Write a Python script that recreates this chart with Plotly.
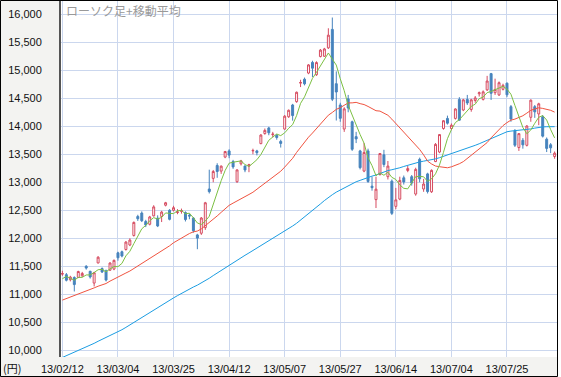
import plotly.graph_objects as go

# ---- data (Nikkei 225 daily, 2013/02/12 - 2013/08/12) ----
opens = [11360,11350,11260,11300,11300,11330,11500,11410,11200,11560,
11460,11420,11430,11450,11740,11760,11800,11880,12050,12390,
12450,12300,12250,12400,12360,12390,12590,12500,12500,12460,
12480,12460,12410,12360,12060,12090,12190,12880,13070,13300,
13200,13450,13560,13370,13010,13330,13290,13290,13560,13560,
13690,13870,13970,13850,13840,13730,13950,14170,14380,14440,
14770,14840,14950,15140,14920,15245,15250,15400,15730,14760,
14380,13950,14490,14080,13815,13560,13200,13560,12930,12690,
13140,13490,13100,13020,12570,12700,13080,13210,13100,12790,
13410,12880,13150,12830,13370,13540,13960,14140,13960,14140,
14480,14290,14480,14300,14460,14580,14480,14650,14940,14600,
14560,14660,14770,14350,13920,13620,13750,13660,14160,14350,
14220,14170,13770,13670,13460]

highs = [11420,11380,11330,11320,11420,11400,11520,11420,11400,11680,
11480,11440,11570,11620,11760,11780,11950,12000,12300,12420,
12480,12330,12400,12590,12410,12490,12650,12520,12580,12520,
12530,12480,12440,12380,12080,12380,12650,13225,13220,13340,
13300,13560,13590,13400,13230,13400,13300,13330,13600,13580,
13860,13960,13990,13900,13860,13760,14200,14300,14400,14620,
14830,14870,15110,15170,15160,15380,15400,15750,15942,14980,
14420,14340,14560,14100,13900,13580,13700,13600,13100,13100,
13520,13580,13380,13050,12900,13100,13120,13290,13130,13260,
13440,13060,13170,13230,13700,13860,14110,14190,14050,14320,
14520,14490,14560,14490,14540,14620,14640,14900,14953,14850,
14800,14760,14780,14380,13950,13880,13790,14020,14480,14380,
14420,14200,13800,13700,13550]

lows = [11330,11230,11230,11050,11290,11310,11440,11280,11140,11550,
11380,11230,11420,11430,11600,11660,11780,11860,12030,12310,
12290,12200,12230,12390,12200,12290,12570,12320,12480,12430,
12440,12300,12340,12100,11805,12060,12150,12800,13000,13080,
13150,13430,13430,13240,12990,13300,13180,13180,13500,13480,
13680,13850,13840,13800,13760,13620,13940,14150,14100,14420,
14700,14730,14930,14880,14900,15230,15240,15380,14450,14103,
14080,13900,14250,13560,13700,13230,13180,12990,12850,12540,
13120,13270,13050,12415,12520,12680,12960,13180,12940,12760,
13000,12830,12800,12810,13360,13520,13940,14030,13930,14120,
14100,14270,14380,14260,14420,14530,14460,14630,14470,14560,
14540,14640,14520,14080,13630,13560,13600,13640,14080,14150,
14020,13800,13540,13520,13420]

closes = [11369,11251,11307,11173,11407,11372,11468,11309,11385,11662,
11398,11254,11559,11606,11652,11683,11932,11968,12283,12349,
12314,12239,12381,12560,12220,12468,12635,12338,12546,12471,
12493,12335,12397,12135,12003,12362,12634,12833,13192,13192,
13288,13549,13485,13275,13221,13382,13220,13316,13568,13529,
13843,13926,13884,13860,13799,13694,14180,14285,14191,14607,
14782,14758,15096,15037,15138,15360,15381,15627,14483,14612,
14142,14311,14326,13589,13774,13261,13533,13014,12904,12877,
13514,13317,13289,12445,12686,13033,13007,13245,12986,13230,
13062,12969,12834,13213,13677,13852,14099,14055,14018,14309,
14109,14472,14416,14472,14506,14599,14615,14808,14589,14658,
14778,14731,14562,14129,13661,13869,13668,14005,14466,14258,
14401,13824,13605,13615,13519]

ma5 = [11278,11319,11287,11251,11301,11302,11345,11346,11388,11439,
11444,11402,11452,11496,11494,11551,11686,11768,11904,12043,
12169,12231,12313,12369,12343,12374,12453,12444,12441,12492,
12497,12437,12448,12366,12273,12246,12306,12393,12605,12843,
13028,13211,13341,13358,13364,13382,13317,13283,13341,13403,
13495,13636,13750,13808,13862,13833,13883,13964,14030,14191,
14409,14525,14687,14856,14962,15078,15202,15309,15198,15093,
14849,14635,14375,14196,14028,13852,13697,13434,13297,13118,
13168,13125,13180,13088,13050,12954,12892,12883,12991,13100,
13106,13098,13016,13062,13151,13309,13535,13779,13940,14067,
14118,14193,14265,14356,14395,14493,14522,14600,14623,14654,
14690,14713,14664,14572,14372,14190,13978,13866,13934,14053,
14160,14191,14111,13941,13793]

ma25 = [10896,10922,10954,10978,11008,11031,11055,11083,11114,11144,
11170,11192,11235,11274,11303,11338,11380,11415,11460,11507,
11549,11597,11633,11681,11724,11768,11823,11865,11920,11962,
12007,12042,12085,12115,12129,12167,12223,12273,12337,12399,
12463,12527,12588,12628,12663,12705,12745,12782,12822,12875,
12930,12981,13043,13096,13149,13197,13271,13346,13428,13533,
13629,13714,13805,13879,13957,14039,14113,14198,14247,14302,
14333,14376,14417,14418,14427,14404,14388,14354,14315,14278,
14271,14237,14197,14127,14050,13980,13910,13836,13754,13678,
13586,13489,13378,13327,13290,13278,13269,13259,13276,13297,
13331,13369,13425,13487,13553,13596,13648,13709,13794,13873,
13943,14012,14065,14110,14128,14160,14188,14235,14285,14308,
14330,14319,14301,14285,14253]

ma75 = [9872,9902,9933,9963,9995,10026,10060,10092,10124,10161,
10194,10224,10258,10293,10329,10367,10409,10453,10501,10550,
10597,10640,10683,10728,10768,10810,10853,10892,10935,10976,
11017,11055,11094,11130,11163,11201,11242,11286,11334,11380,
11428,11477,11525,11566,11609,11655,11696,11738,11781,11823,
11865,11909,11954,11998,12040,12078,12122,12171,12219,12268,
12323,12376,12438,12497,12553,12613,12673,12734,12778,12824,
12862,12906,12944,12974,13009,13034,13064,13087,13110,13130,
13158,13183,13209,13224,13237,13259,13282,13305,13323,13344,
13363,13377,13388,13400,13418,13439,13463,13486,13505,13533,
13555,13579,13607,13633,13660,13688,13718,13751,13783,13819,
13851,13879,13902,13914,13921,13928,13930,13937,13953,13967,
13980,13988,13992,13994,13993]

tick_positions = [0, 14, 28, 42, 56, 70, 84, 98, 112]
tick_labels = ["13/02/12", "13/03/04", "13/03/25", "13/04/12", "13/05/07",
               "13/05/27", "13/06/14", "13/07/04", "13/07/25"]
y_ticks = [10000, 10500, 11000, 11500, 12000, 12500, 13000, 13500,
           14000, 14500, 15000, 15500, 16000]
title_text = "ローソク足+移動平均"
unit_text = "(円)"

# ---- styling ----
W, H = 561, 377
L, R, T, B = 61, 4, 1, 20
PW, PH = W - L - R, H - T - B
UP = "#d64b60"
DOWN = "#4683bd"
GRID = "#cbd7ee"

x = list(range(len(closes)))

fig = go.Figure()
fig.add_trace(go.Candlestick(
    x=x, open=opens, high=highs, low=lows, close=closes,
    increasing=dict(line=dict(color=UP, width=1), fillcolor="white"),
    decreasing=dict(line=dict(color=DOWN, width=1), fillcolor=DOWN),
    whiskerwidth=0, showlegend=False, hoverinfo="skip"))
fig.add_trace(go.Scatter(x=x, y=ma75, mode="lines",
                         line=dict(color="#1b9de2", width=1), showlegend=False))
fig.add_trace(go.Scatter(x=x, y=ma25, mode="lines",
                         line=dict(color="#f0533f", width=1), showlegend=False))
fig.add_trace(go.Scatter(x=x, y=ma5, mode="lines",
                         line=dict(color="#7cc043", width=1), showlegend=False))

def px_x(p):
    return (p - L) / PW

def px_y(p):
    return (H - B - p) / PH

fig.update_layout(
    width=W, height=H,
    margin=dict(l=L, r=R, t=T, b=B, pad=0),
    paper_bgcolor="#f3f3f1", plot_bgcolor="white",
    font=dict(family="Liberation Sans, Arial, sans-serif", size=11, color="#111"),
    xaxis=dict(range=[-0.35, 124.6], tickmode="array", tickvals=tick_positions,
               ticktext=tick_labels, showgrid=True, gridcolor=GRID, gridwidth=1,
               zeroline=False, showline=False, ticks="", ticklabelstandoff=4,
               rangeslider=dict(visible=False), fixedrange=True),
    yaxis=dict(range=[9880, 16237], tickmode="array", tickvals=y_ticks,
               ticktext=[f"{v:,}" for v in y_ticks], showgrid=True,
               gridcolor=GRID, gridwidth=1, zeroline=False, showline=True,
               linecolor="#555555", linewidth=2, ticks="", ticklabelstandoff=15,
               fixedrange=True),
    shapes=[
        dict(type="rect", xref="paper", yref="paper",
             x0=px_x(557.5), x1=px_x(W + 2), y0=px_y(H + 2), y1=px_y(-2),
             fillcolor="white", line=dict(width=0), layer="below"),
        dict(type="rect", xref="paper", yref="paper",
             x0=px_x(0.5), x1=px_x(557.5), y0=px_y(376.5), y1=px_y(0.5),
             line=dict(color="#000000", width=1), fillcolor="rgba(0,0,0,0)",
             layer="above"),
    ],
    annotations=[
        dict(text=title_text, xref="paper", yref="paper", x=px_x(64), y=px_y(10),
             xanchor="left", yanchor="middle", showarrow=False,
             font=dict(family="Noto Sans CJK JP", size=12, color="#999999")),
        dict(text=unit_text, xref="paper", yref="paper", x=px_x(1), y=px_y(368),
             xanchor="left", yanchor="middle", showarrow=False,
             font=dict(family="Noto Sans CJK JP, Liberation Sans", size=11, color="#111")),
    ],
)

fig.write_html(
    "out.html",
    config={"displayModeBar": False, "responsive": False},
    post_script="document.body.style.margin='0';document.body.style.padding='0';"
                "document.body.style.overflow='hidden';",
)
